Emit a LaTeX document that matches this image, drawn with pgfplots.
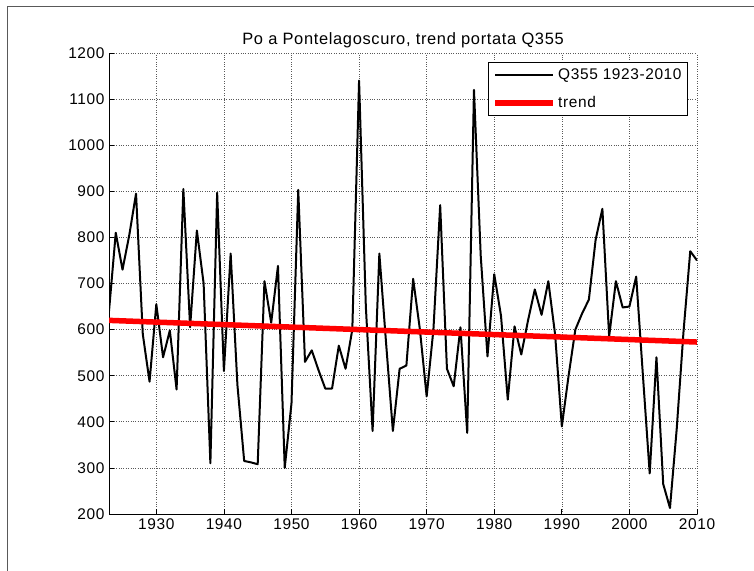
\documentclass[border=0pt]{standalone}
\usepackage{fontspec}
\setmainfont{Liberation Sans}
\newfontfamily\mfont[LetterSpace=4]{Liberation Sans}
\usepackage{pgfplots}
\pgfplotsset{compat=1.18}
\usepackage{pgfplotstable}
\pgfplotstableread{
year q
1923 640
1924 810
1925 730
1926 805
1927 895
1928 590
1929 487
1930 655
1931 540
1932 598
1933 470
1934 905
1935 605
1936 815
1937 700
1938 310
1939 897
1940 510
1941 765
1942 480
1943 315
1944 312
1945 308
1946 705
1947 615
1948 738
1949 300
1950 440
1951 903
1952 530
1953 555
1954 512
1955 472
1956 472
1957 565
1958 515
1959 600
1960 1140
1961 650
1962 380
1963 765
1964 570
1965 380
1966 515
1967 522
1968 710
1969 600
1970 455
1971 600
1972 870
1973 515
1974 477
1975 605
1976 376
1977 1120
1978 760
1979 542
1980 720
1981 630
1982 448
1983 607
1984 546
1985 620
1986 687
1987 632
1988 705
1989 590
1990 390
1991 500
1992 600
1993 635
1994 665
1995 795
1996 862
1997 585
1998 705
1999 648
2000 650
2001 715
2002 500
2003 288
2004 540
2005 265
2006 213
2007 385
2008 595
2009 770
2010 750
}\qdata
\pgfplotstableread{
year t
1923 620
2010 573
}\trenddata
\begin{document}
\begin{tikzpicture}[x=1bp,y=1bp]
\path[use as bounding box] (0,0) rectangle (754,571);
\draw[black!65, line width=1bp] (7,0) -- (7,564) -- (754,564);
\begin{axis}[
  at={(109bp,57bp)}, anchor=south west,
  width=588bp, height=461bp, scale only axis,
  xmin=1923, xmax=2010, ymin=200, ymax=1200,
  xtick={1930,1940,...,2010},
  ytick={200,300,...,1200},
  axis x line=bottom, axis y line=left,
  axis line style={-, line width=0.9bp},
  tick align=inside, tick style={black, line width=0.7bp},
  major tick length=5bp,
  grid=major, grid style={dotted, black!65, line width=0.6bp},
  /pgf/number format/assume math mode=true,
  /pgf/number format/1000 sep={},
  tick label style={font=\mfont\fontsize{15.5}{17}\selectfont},
  xticklabel style={yshift=-1bp},
  yticklabel style={xshift=-1bp},
  title={Po a Pontelagoscuro, trend portata Q355},
  title style={font=\mfont\fontsize{16.5}{18}\selectfont, yshift=-4bp},
  legend cell align=left,
  legend style={at={(1,1)}, anchor=north east, xshift=-9bp, yshift=-9bp,
    draw=black, line width=0.9bp, font=\mfont\fontsize{15.5}{17}\selectfont,
    inner xsep=4bp, inner ysep=4bp, row sep=12bp},
  legend image code/.code={\draw[#1] (0bp,0bp) -- (58bp,0bp);},
]
\addplot[black, line width=2bp, line join=round] table[x=year, y=q] {\qdata};
\addlegendentry{Q355 1923-2010}
\addplot[red, line width=5.5bp] table[x=year, y=t] {\trenddata};
\addlegendentry{trend}
\end{axis}
\end{tikzpicture}
\end{document}
